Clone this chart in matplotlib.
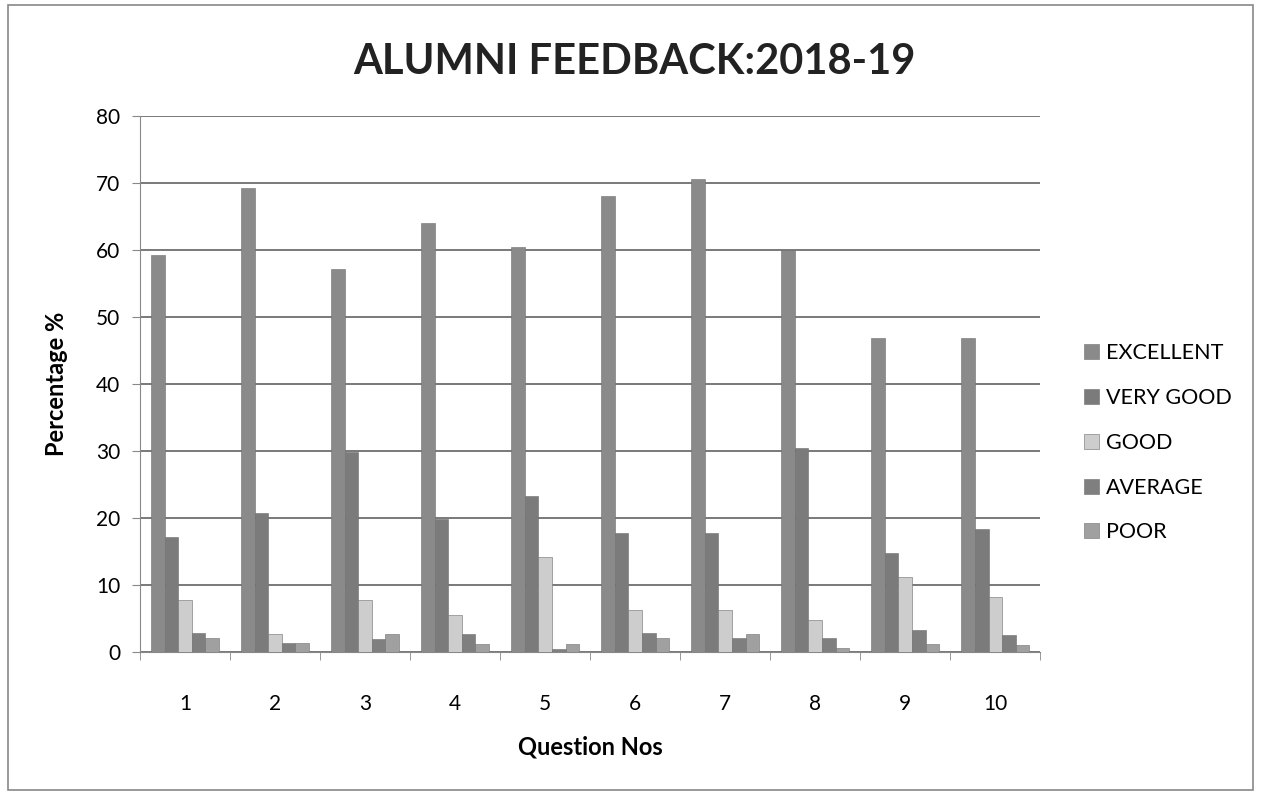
import matplotlib.pyplot as plt
import numpy as np
from matplotlib.patches import Rectangle

# Data
questions = ['1', '2', '3', '4', '5', '6', '7', '8', '9', '10']
excellent = [59.2, 69.3, 57.1, 64.1, 60.4, 68.0, 70.6, 60.0, 46.9, 46.9]
very_good = [17.1, 20.7, 29.9, 19.8, 23.3, 17.8, 17.8, 30.5, 14.7, 18.3]
good = [7.7, 2.7, 7.7, 5.5, 14.1, 6.3, 6.3, 4.8, 11.2, 8.2]
average = [2.8, 1.4, 2.0, 2.7, 0.5, 2.8, 2.1, 2.1, 3.3, 2.5]
poor = [2.1, 1.4, 2.7, 1.25, 1.2, 2.1, 2.7, 0.6, 1.25, 1.1]

series = [('EXCELLENT', excellent, '#8a8a8a'),
          ('VERY GOOD', very_good, '#7b7b7b'),
          ('GOOD', good, '#cdcdcd'),
          ('AVERAGE', average, '#7f7f7f'),
          ('POOR', poor, '#a0a0a0')]

plt.rcParams['font.family'] = ['Lato', 'DejaVu Sans']

fig = plt.figure(figsize=(12.61, 7.95), dpi=100)
ax = fig.add_axes([0.111, 0.18, 0.714, 0.674])

index = np.arange(len(questions))
bar_width = 0.151
for i, (name, vals, col) in enumerate(series):
    ax.bar(index + (i - 2) * bar_width, vals, bar_width, label=name,
           color=col, edgecolor='#6e6e6e', linewidth=0.4, zorder=3)

ax.set_ylim(0, 80)
ax.set_xlim(-0.5, 9.5)
ax.set_yticks(range(0, 81, 10))
ax.set_xticks(index)
ax.set_xticklabels(questions)
ax.set_xticks(np.arange(-0.5, 10, 1), minor=True)
ax.tick_params(axis='x', which='major', length=0, pad=30, labelsize=15)
ax.tick_params(axis='x', which='minor', length=6, color='#888888')
ax.tick_params(axis='y', length=6, color='#888888', labelsize=15, pad=8)
ax.yaxis.grid(True, color='#555555', linewidth=1.1, zorder=0)

for s in ['top', 'right']:
    ax.spines[s].set_visible(False)
for s in ['left', 'bottom']:
    ax.spines[s].set_color('#888888')

ax.set_ylabel('Percentage %', fontsize=17, fontweight='bold', labelpad=20)
ax.set_xlabel('Question Nos', fontsize=17, fontweight='bold', labelpad=16)
fig.text(0.503, 0.922, 'ALUMNI FEEDBACK:2018-19', ha='center', va='center',
         fontsize=30, fontweight='bold', color='#222222')

ax.legend(loc='center left', bbox_to_anchor=(1.027, 0.39), frameon=False,
          fontsize=15.5, handlelength=0.7, handleheight=0.7, handletextpad=0.3,
          labelspacing=1.15)

fig.patches.append(Rectangle((0.006, 0.006), 0.988, 0.988, transform=fig.transFigure,
                             fill=False, edgecolor='#888888', linewidth=1.2))

fig.savefig('out.png', dpi=100)
